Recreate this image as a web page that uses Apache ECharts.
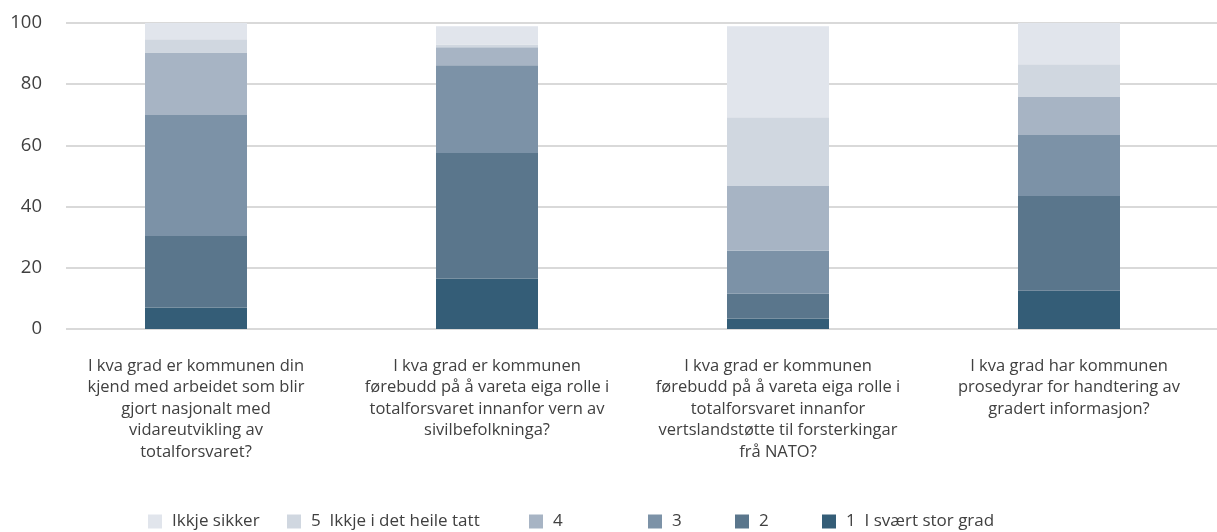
<!DOCTYPE html>
<html>
<head>
<meta charset="utf-8">
<title>Totalforsvaret</title>
<script src="https://cdn.jsdelivr.net/npm/echarts@6/dist/echarts.min.js"></script>
<style>
  html, body { margin: 0; padding: 0; background: #fff; }
  #chart { width: 1217px; height: 532px; }
</style>
</head>
<body>
<div id="chart"></div>
<script>
var questions = [
  'I kva grad er kommunen din\nkjend med arbeidet som blir\ngjort nasjonalt med\nvidareutvikling av\ntotalforsvaret?',
  'I kva grad er kommunen\nførebudd på å vareta eiga rolle i\ntotalforsvaret innanfor vern av\nsivilbefolkninga?',
  'I kva grad er kommunen\nførebudd på å vareta eiga rolle i\ntotalforsvaret innanfor\nvertslandstøtte til forsterkingar\nfrå NATO?',
  'I kva grad har kommunen\nprosedyrar for handtering av\ngradert informasjon?'
]

var grad1 = [7, 16.5, 3.4, 12.5]
var grad2 = [23.4, 41, 8.1, 31]
var grad3 = [39.5, 28.7, 14.1, 19.9]
var grad4 = [20.5, 5.9, 21.1, 12.4]
var grad5 = [4.3, 0.9, 22.5, 10.7]
var ikkjeSikker = [5.3, 5.9, 29.7, 13.5]

var yTicks = [0, 20, 40, 60, 80, 100]

var names = ['1  I svært stor grad', '2', '3', '4', '5  Ikkje i det heile tatt', 'Ikkje sikker']
var colors = ['#345d77', '#5a768c', '#7c92a7', '#a7b4c4', '#d0d7e0', '#e1e5ec']
var values = [grad1, grad2, grad3, grad4, grad5, ikkjeSikker]

// legend items sit at fixed spots, so one legend per item
var legendLeft = [822, 735, 648, 529, 287, 148]

var font = 'Open Sans'
var textColor = '#404040'

var chart = echarts.init(document.getElementById('chart'), null, { renderer: 'canvas' })

var series = names.map(function (n, i) {
  return {
    name: n,
    type: 'bar',
    stack: 'total',
    xAxisIndex: 1,
    yAxisIndex: 1,
    barWidth: 102,
    itemStyle: { color: colors[i] },
    data: values[i],
    animation: false
  }
})

var legends = names.map(function (n, i) {
  return {
    data: [n],
    left: legendLeft[i],
    top: 513,
    padding: 0,
    itemWidth: 14,
    itemHeight: 14,
    icon: 'rect',
    selectedMode: false,
    textStyle: { fontFamily: font, fontSize: 17, color: textColor, padding: [0, 0, 0, 5] }
  }
})

chart.setOption({
  animation: false,
  legend: legends,
  grid: [
    { left: 66, right: 0, top: 23, bottom: 203 },
    { left: 50.5, right: 2.5, top: 23, bottom: 203 }
  ],
  xAxis: [
    { type: 'value', gridIndex: 0, show: false, min: 0, max: 1 },
    {
      type: 'category',
      gridIndex: 1,
      data: questions,
      axisLine: { show: false },
      axisTick: { show: false },
      axisLabel: {
        interval: 0,
        margin: 26,
        fontFamily: font,
        fontSize: 16.5,
        lineHeight: 21.6,
        color: textColor,
        align: 'center'
      }
    }
  ],
  yAxis: [
    {
      type: 'value',
      gridIndex: 0,
      min: yTicks[0],
      max: yTicks[yTicks.length - 1],
      interval: 20,
      axisLine: { show: false },
      axisTick: { show: false },
      axisLabel: { margin: 24, fontFamily: font, fontSize: 18.5, color: textColor },
      splitLine: { lineStyle: { color: '#d9d9d9', width: 2 } }
    },
    { type: 'value', gridIndex: 1, min: 0, max: 100, show: false }
  ],
  series: series
})
</script>
</body>
</html>
